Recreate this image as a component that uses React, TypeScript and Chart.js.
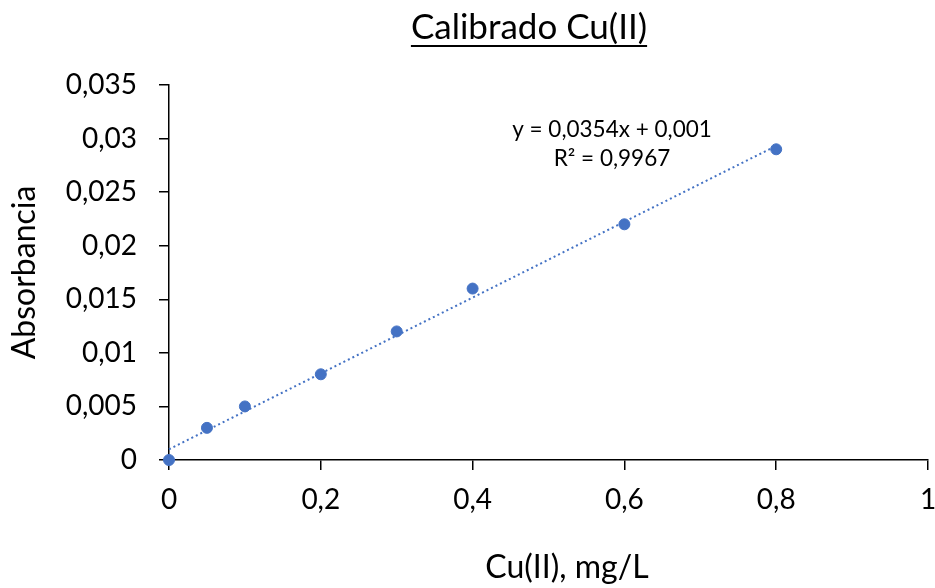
import React, { useEffect, useRef } from 'react';
import { Chart, registerables } from 'chart.js';

Chart.register(...registerables);

// ---- data ----
const concentrations = [0, 0.05, 0.1, 0.2, 0.3, 0.4, 0.6, 0.8];
const absorbances = [0, 0.003, 0.005, 0.008, 0.012, 0.016, 0.022, 0.029];
const trendSlope = 0.0354;
const trendIntercept = 0.001;
const trendRange = [0, 0.8];
const chartTitle = 'Calibrado Cu(II)';
const xTitle = 'Cu(II), mg/L';
const yTitle = 'Absorbancia';
const equationLines = ['y = 0,0354x + 0,001', 'R² = 0,9967'];
const xLimits = [0, 1, 0.2];
const yLimits = [0, 0.035, 0.005];

const FONT = 'Lato';
const BLUE = '#4472C4';

const fmt = (v: number) => String(parseFloat(Number(v).toFixed(4))).replace('.', ',');

const decorPlugin = {
  id: 'decor',
  afterDraw(chart: any) {
    const ctx = chart.ctx;
    ctx.save();
    ctx.fillStyle = '#000';
    ctx.textAlign = 'center';
    // title with underline
    ctx.font = `35px ${FONT}`;
    ctx.textBaseline = 'alphabetic';
    const cx = 529;
    const by = 39;
    ctx.fillText(chartTitle, cx, by);
    const w = ctx.measureText(chartTitle).width;
    ctx.fillRect(cx - w / 2, by + 6, w, 2);
    // x axis title
    ctx.font = `32px ${FONT}`;
    ctx.fillText(xTitle, 567, 578);
    // trendline equation
    ctx.font = `22.5px ${FONT}`;
    ctx.textBaseline = 'middle';
    ctx.fillText(equationLines[0], 612, 130);
    ctx.fillText(equationLines[1], 612, 159);
    ctx.restore();
  },
};

export default function App() {
  const ref = useRef<HTMLCanvasElement | null>(null);
  useEffect(() => {
    if (!ref.current) return;
    const trendData = trendRange.map((x) => ({ x, y: trendSlope * x + trendIntercept }));
    const chart = new Chart(ref.current, {
      type: 'scatter',
      data: {
        datasets: [
          {
            label: 'trend',
            data: trendData,
            showLine: true,
            borderColor: BLUE,
            borderWidth: 2,
            borderDash: [2, 3],
            pointRadius: 0,
            clip: false as any,
          },
          {
            label: 'Absorbancia',
            data: concentrations.map((x, i) => ({ x, y: absorbances[i] })),
            backgroundColor: BLUE,
            borderColor: BLUE,
            borderWidth: 1,
            pointRadius: 5.5,
            clip: false as any,
          },
        ],
      },
      options: {
        animation: false,
        responsive: false,
        devicePixelRatio: 1,
        layout: { padding: { top: 85, left: 0, right: 7, bottom: 0 } },
        plugins: { legend: { display: false }, tooltip: { enabled: false }, title: { display: false } },
        scales: {
          x: {
            type: 'linear',
            min: xLimits[0],
            max: xLimits[1],
            afterFit: (s: any) => { s.height = 128; s.paddingRight = 0; s.paddingLeft = 0; },
            ticks: {
              stepSize: xLimits[2],
              callback: (v: any) => fmt(v),
              color: '#000',
              font: { family: FONT, size: 28 },
              padding: 13,
              maxRotation: 0,
            },
            grid: { drawOnChartArea: false, drawTicks: true, tickLength: 10, color: '#000', lineWidth: 1.5 },
            border: { display: true, color: '#000', width: 1.5 },
            title: { display: false, text: xTitle },
          },
          y: {
            type: 'linear',
            min: yLimits[0],
            max: yLimits[1],
            afterFit: (s: any) => { s.width = 169; },
            ticks: {
              stepSize: yLimits[2],
              callback: (v: any) => fmt(v),
              color: '#000',
              font: { family: FONT, size: 28 },
              padding: 22,
            },
            grid: { drawOnChartArea: false, drawTicks: true, tickLength: 10, color: '#000', lineWidth: 1.5 },
            border: { display: true, color: '#000', width: 1.5 },
            title: { display: true, text: yTitle, color: '#000', font: { family: FONT, size: 32 }, padding: { top: 5, bottom: 0 } },
          },
        },
      },
      plugins: [decorPlugin],
    });
    return () => chart.destroy();
  }, []);
  return (
    <div style={{ position: 'absolute', left: 0, top: 0, width: 935, height: 588, background: '#fff' }}>
      <canvas ref={ref} width={935} height={588} />
    </div>
  );
}
